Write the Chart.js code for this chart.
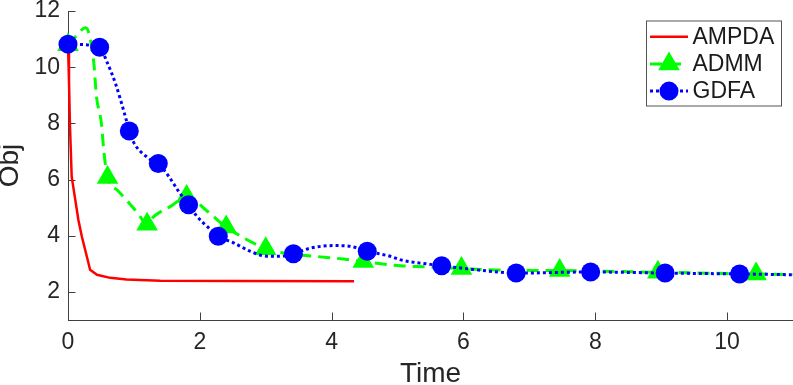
<!DOCTYPE html>
<html>
<head>
<meta charset="utf-8">
<script src="https://cdn.jsdelivr.net/npm/chart.js@4.4.1/dist/chart.umd.min.js"></script>
<style>
  html, body { margin: 0; padding: 0; background: #fff; }
</style>
</head>
<body>
<canvas id="objChart" width="793" height="385"></canvas>
<script>
// values (Obj vs Time)
const ampdaTime = [0, 0.015, 0.03, 0.056, 0.107, 0.157, 0.21, 0.26, 0.31, 0.335, 0.44, 0.64, 0.89, 1.4, 2.5, 4.34];
const ampdaObj  = [10.8, 9.5, 7.9, 6.1, 5.33, 4.57, 3.97, 3.5, 3.03, 2.79, 2.61, 2.5, 2.44, 2.4, 2.39, 2.38];

// ADMM: points with a marker, then the points in between
const admmMarkTime = [0, 0.6, 1.2, 1.8, 2.4, 3.0, 4.48, 5.97, 7.46, 8.95, 10.44];
const admmMarkObj  = [10.8, 6.07, 4.41, 5.4, 4.31, 3.54, 3.08, 2.83, 2.76, 2.7, 2.64];
const admmMidTime  = [0.1, 0.27, 0.39, 0.43, 0.51, 0.54, 0.75, 1.05, 1.3, 1.58, 2.1, 3.18, 3.78, 4.18, 5.05, 5.43, 6.5, 11];
const admmMidObj   = [11.05, 11.4, 10.19, 9.0, 7.94, 7.1, 5.62, 4.83, 4.68, 5.08, 4.9, 3.42, 3.26, 3.17, 2.93, 2.89, 2.78, 2.62];

// GDFA
const gdfaMarkTime = [0, 0.48, 0.93, 1.37, 1.83, 2.28, 3.42, 4.54, 5.67, 6.8, 7.93, 9.06, 10.19];
const gdfaMarkObj  = [10.82, 10.71, 7.73, 6.57, 5.1, 3.98, 3.36, 3.45, 2.93, 2.67, 2.71, 2.67, 2.64];
const gdfaMidTime  = [0.59, 0.72, 0.87, 0.99, 1.22, 1.53, 1.68, 1.96, 2.11, 2.52, 2.77, 3.02, 3.23, 3.68, 4.04, 4.29, 4.9, 5.05, 5.5, 6.07, 6.52, 11];
const gdfaMidObj   = [10.19, 9.42, 8.24, 7.35, 6.76, 6.11, 5.57, 4.68, 4.33, 3.74, 3.44, 3.27, 3.27, 3.56, 3.65, 3.62, 3.26, 3.14, 2.98, 2.82, 2.71, 2.61];

const xTickVals = [0, 2, 4, 6, 8, 10];
const yTickVals = [2, 4, 6, 8, 10, 12];

const FONT = "'Liberation Sans', Arial, Helvetica, sans-serif";
const AXIS_COL = '#404040';
const TEXT_COL = '#262626';

// merge marker points and plain points into one sorted curve
function buildSeries(mt, my, pt, py) {
	let pts = [];
	for (let i = 0; i < mt.length; i++) pts.push({x: mt[i], y: my[i], m: true});
	for (let i = 0; i < pt.length; i++) pts.push({x: pt[i], y: py[i], m: false});
	pts.sort((a, b) => a.x - b.x);
	return pts;
}

// ticks pointing inside the axes, like matlab
const inwardTicks = {
	id: 'inwardTicks',
	beforeDatasetsDraw(chart) {
		const ctx = chart.ctx;
		const area = chart.chartArea;
		const len = 7.5;
		ctx.save();
		ctx.strokeStyle = AXIS_COL;
		ctx.lineWidth = 1;
		ctx.beginPath();
		chart.scales.x.ticks.forEach(t => {
			const px = Math.round(chart.scales.x.getPixelForValue(t.value)) + 0.5;
			ctx.moveTo(px, area.bottom);
			ctx.lineTo(px, area.bottom - len);
		});
		chart.scales.y.ticks.forEach(t => {
			const py = Math.round(chart.scales.y.getPixelForValue(t.value)) + 0.5;
			ctx.moveTo(area.left, py);
			ctx.lineTo(area.left + len, py);
		});
		ctx.stroke();
		ctx.restore();
	}
};

// legend box in the top right corner
const boxLegend = {
	id: 'boxLegend',
	afterDraw(chart) {
		const ctx = chart.ctx;
		const bx = 646, by = 20.5, bw = 135, bh = 85;
		ctx.save();
		ctx.fillStyle = '#fff';
		ctx.fillRect(bx, by, bw, bh);
		ctx.strokeStyle = '#555';
		ctx.lineWidth = 1;
		ctx.setLineDash([]);
		ctx.strokeRect(bx + 0.5, by + 0.5, bw, bh);

		chart.data.datasets.slice().sort((a, b) => a.legendIndex - b.legendIndex).forEach((ds, i) => {
			const cy = 36.7 + i * 27.2;
			ctx.strokeStyle = ds.borderColor;
			ctx.lineWidth = ds.borderWidth;
			ctx.setLineDash(ds.borderDash || []);
			ctx.beginPath();
			ctx.moveTo(650, cy);
			ctx.lineTo(688, cy);
			ctx.stroke();
			ctx.setLineDash([]);
			if (ds.markerRadius) {
				ctx.fillStyle = ds.backgroundColor;
				Chart.helpers.drawPoint(ctx, {pointStyle: ds.pointStyle, radius: ds.markerRadius, borderWidth: 0, rotation: 0}, 669, cy);
			}
			ctx.fillStyle = '#1a1a1a';
			ctx.font = '23px ' + FONT;
			ctx.textAlign = 'left';
			ctx.textBaseline = 'middle';
			ctx.fillText(ds.label, 692.5, cy + 1);
		});
		ctx.restore();
	}
};

const ctx = document.getElementById('objChart').getContext('2d');

const chart = new Chart(ctx, {
	type: 'line',
	data: {
		datasets: [
			{
				label: 'GDFA',
				legendIndex: 2,
				data: buildSeries(gdfaMarkTime, gdfaMarkObj, gdfaMidTime, gdfaMidObj),
				borderColor: '#0000ff',
				backgroundColor: '#0000ff',
				borderWidth: 3,
				borderDash: [3, 3],
				cubicInterpolationMode: 'monotone',
				pointStyle: 'circle',
				markerRadius: 9.5,
				pointRadius: c => (c.raw && c.raw.m) ? 9.5 : 0,
				pointBorderWidth: 0,
				pointHoverRadius: 0,
				clip: false,
				order: 0
			},
			{
				label: 'ADMM',
				legendIndex: 1,
				data: buildSeries(admmMarkTime, admmMarkObj, admmMidTime, admmMidObj),
				borderColor: '#00ff00',
				backgroundColor: '#00ff00',
				borderWidth: 3,
				borderDash: [12, 7],
				cubicInterpolationMode: 'monotone',
				pointStyle: 'triangle',
				markerRadius: 12.5,
				pointRadius: c => (c.raw && c.raw.m) ? 12.5 : 0,
				pointBorderWidth: 0,
				pointHoverRadius: 0,
				clip: false,
				order: 1
			},
			{
				label: 'AMPDA',
				legendIndex: 0,
				data: ampdaTime.map((t, i) => ({x: t, y: ampdaObj[i]})),
				borderColor: '#ff0000',
				backgroundColor: '#ff0000',
				borderWidth: 2.5,
				tension: 0,
				pointRadius: 0,
				pointHoverRadius: 0,
				clip: false,
				order: 2
			}
		]
	},
	options: {
		responsive: false,
		animation: false,
		events: [],
		layout: {
			autoPadding: false,
			padding: {top: 11, right: 0, bottom: 0, left: 0}
		},
		plugins: {
			legend: {display: false},
			tooltip: {enabled: false}
		},
		scales: {
			x: {
				type: 'linear',
				min: 0,
				max: 11,
				afterBuildTicks: s => { s.ticks = xTickVals.map(v => ({value: v})); },
				afterFit: s => { s.height = 65; s.paddingLeft = 0; s.paddingRight = 0; },
				grid: {display: false, drawTicks: false},
				border: {display: true, color: AXIS_COL, width: 1},
				ticks: {
					color: TEXT_COL,
					padding: 9,
					maxRotation: 0,
					font: {family: FONT, size: 23}
				},
				title: {
					display: true,
					text: 'Time',
					color: TEXT_COL,
					font: {family: FONT, size: 28, lineHeight: 1},
					padding: {top: 0, bottom: -3}
				}
			},
			y: {
				type: 'linear',
				min: 1,
				max: 12,
				afterBuildTicks: s => { s.ticks = yTickVals.map(v => ({value: v})); },
				afterFit: s => { s.width = 68; s.paddingTop = 0; s.paddingBottom = 0; },
				grid: {display: false, drawTicks: false},
				border: {display: true, color: AXIS_COL, width: 1},
				ticks: {
					color: TEXT_COL,
					padding: 8,
					font: {family: FONT, size: 23}
				},
				title: {
					display: true,
					text: 'Obj',
					color: TEXT_COL,
					font: {family: FONT, size: 28, lineHeight: 1},
					padding: {top: -4, bottom: 0}
				}
			}
		}
	},
	plugins: [inwardTicks, boxLegend]
});
</script>
</body>
</html>
